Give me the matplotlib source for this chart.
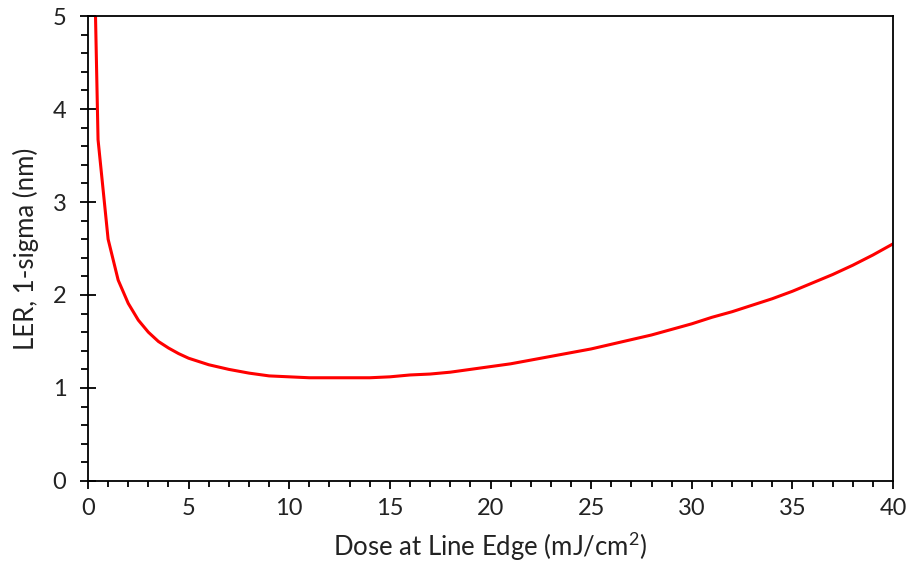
import matplotlib
matplotlib.use("Agg")
import matplotlib.pyplot as plt
from matplotlib.ticker import MultipleLocator

# dose (mJ/cm2) and LER (nm)
dose = [0.25, 0.5, 1.0, 1.5, 2.0, 2.5, 3.0, 3.5, 4.0, 4.5, 5.0,
        6, 7, 8, 9, 10, 11, 12, 13, 14, 15, 16, 17, 18, 19, 20,
        21, 22, 23, 24, 25, 26, 27, 28, 29, 30, 31, 32, 33, 34, 35,
        36, 37, 38, 39, 40]
ler = [6.3, 3.67, 2.60, 2.16, 1.91, 1.73, 1.60, 1.50, 1.43, 1.37, 1.32,
       1.25, 1.20, 1.16, 1.13, 1.12, 1.11, 1.11, 1.11, 1.11, 1.12, 1.14, 1.15, 1.17, 1.20, 1.23,
       1.26, 1.30, 1.34, 1.38, 1.42, 1.47, 1.52, 1.57, 1.63, 1.69, 1.76, 1.82, 1.89, 1.96, 2.04,
       2.13, 2.22, 2.32, 2.43, 2.55]

plt.rcParams['font.family'] = ['Lato', 'DejaVu Sans']
plt.rcParams['mathtext.fontset'] = 'custom'
plt.rcParams['mathtext.rm'] = 'Lato'
plt.rcParams['mathtext.default'] = 'regular'

fig = plt.figure(figsize=(9.08, 5.68), dpi=100)
ax = fig.add_axes([0.0969, 0.1532, 0.8866, 0.8186])

ax.plot(dose, ler, color='#ff0000', lw=2.2, solid_joinstyle='round', clip_on=True)

ax.set_xlim(0, 40)
ax.set_ylim(0, 5)
ax.xaxis.set_major_locator(MultipleLocator(5))
ax.xaxis.set_minor_locator(MultipleLocator(1))
ax.yaxis.set_major_locator(MultipleLocator(1))
ax.yaxis.set_minor_locator(MultipleLocator(0.2))

for s in ax.spines.values():
    s.set_linewidth(1.3)
    s.set_color('black')

ax.tick_params(axis='x', which='major', direction='out', length=5.5, width=1.3,
               labelsize=17, pad=7, top=False, labelcolor='#222222')
ax.tick_params(axis='x', which='minor', direction='out', length=4, width=1.3, top=False)
ax.tick_params(axis='y', which='major', direction='inout', length=11, width=1.3,
               labelsize=17, pad=10, right=False, labelcolor='#222222')
ax.tick_params(axis='y', which='minor', direction='out', length=5, width=1.3, right=False)

ax.set_xlabel('Dose at Line Edge (mJ/cm$^{2}$)', fontsize=18.5, labelpad=8, color='#222222')
ax.set_ylabel('LER, 1-sigma (nm)', fontsize=18.5, labelpad=10, color='#222222')

fig.savefig('out.png', dpi=100)
